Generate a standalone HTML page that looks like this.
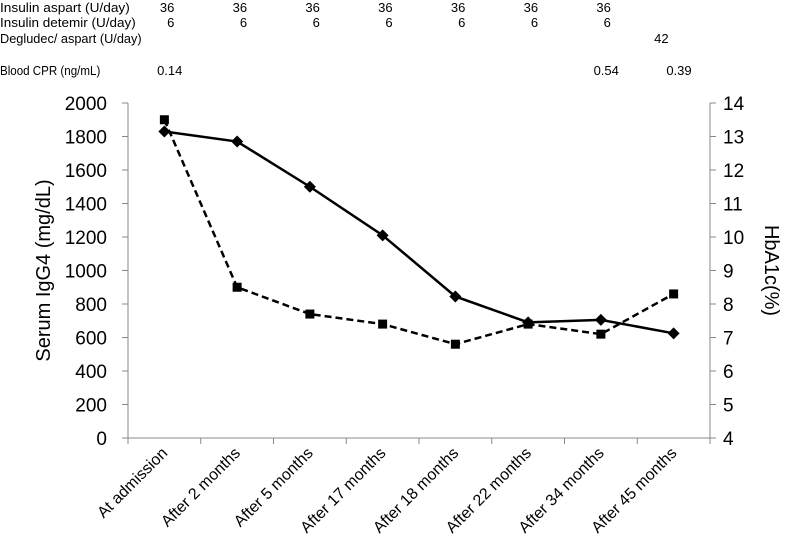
<!DOCTYPE html>
<html><head><meta charset="utf-8"><style>
body{margin:0;background:#fff}
svg{display:block;font-family:"Liberation Sans",sans-serif}
.h{font-size:13px;fill:#000}
</style></head><body>
<svg id="chart" width="787" height="557" viewBox="0 0 787 557" xmlns="http://www.w3.org/2000/svg">
<g id="header"></g>
<g id="axes"></g>
<g id="marks"></g>
</svg>
<script>
const categories=["At admission","After 2 months","After 5 months","After 17 months","After 18 months","After 22 months","After 34 months","After 45 months"];
const iggValues=[1830,1770,1500,1210,845,690,705,625];
const hba1cValues=[13.5,8.5,7.7,7.4,6.8,7.4,7.1,8.3];
const leftTicks=[0,200,400,600,800,1000,1200,1400,1600,1800,2000];
const rightTicks=[4,5,6,7,8,9,10,11,12,13,14];
const aspart=["36","36","36","36","36","36","36",""];
const detemir=["6","6","6","6","6","6","6",""];
const degludec=["","","","","","","","42"];
const cpr=["0.14","","","","","","0.54","0.39"];
const NS="http://www.w3.org/2000/svg";
const X0=128,X1=710,Y0=438,Y1=103;
const bw=(X1-X0)/categories.length;
const xc=i=>X0+bw*(i+0.5);
const yL=v=>Y0-(v/2000)*(Y0-Y1);
const yR=v=>Y0-((v-4)/10)*(Y0-Y1);
function mk(t,a,p){const e=document.createElementNS(NS,t);for(const k in a)e.setAttribute(k,a[k]);p.appendChild(e);return e;}
const ax=document.getElementById('axes'),mg=document.getElementById('marks'),hd=document.getElementById('header');
const rows=[["Insulin aspart (U/day)",aspart,12,10],["Insulin detemir (U/day)",detemir,27,10],["Degludec/ aspart (U/day)",degludec,43,-5],["Blood CPR (ng/mL)",cpr,75,18]];
rows.forEach(r=>{
 const t=mk('text',{x:0,y:r[2],class:'h'},hd);t.textContent=r[0];
 
 t.setAttribute('textLength',String(r[0].length*5.9));t.setAttribute('lengthAdjust','spacingAndGlyphs');
 r[1].forEach((v,i)=>{if(!v)return;const n=mk('text',{x:xc(i)+r[3],y:r[2],class:'h','text-anchor':'end'},hd);n.textContent=v;
 });
});
let l=mk('line',{x1:X0,y1:Y1,x2:X0,y2:Y0,stroke:'#888'},ax);
l=mk('line',{x1:X1,y1:Y1,x2:X1,y2:Y0,stroke:'#888'},ax);
l=mk('line',{x1:X0,y1:Y0,x2:X1,y2:Y0,stroke:'#888'},ax);
leftTicks.forEach(v=>{mk('line',{x1:X0-6,x2:X0,y1:yL(v),y2:yL(v),stroke:'#888'},ax);
 const t=mk('text',{x:X0-21,y:yL(v)+7,'text-anchor':'end','font-size':19},ax);t.textContent=v;
 });
rightTicks.forEach(v=>{mk('line',{x1:X1,x2:X1+6,y1:yR(v),y2:yR(v),stroke:'#888'},ax);
 const t=mk('text',{x:X1+13,y:yR(v)+7,'font-size':19},ax);t.textContent=v;
 });
for(let i=0;i<=categories.length;i++)mk('line',{x1:X0+bw*i,x2:X0+bw*i,y1:Y0,y2:Y0+6,stroke:'#888'},ax);
categories.forEach((c,i)=>{const x=xc(i)+4,y=Y0+16;
 const t=mk('text',{x:x,y:y,'text-anchor':'end','font-size':16,transform:`rotate(-45 ${x} ${y})`},ax);t.textContent=c;
 });
let t=mk('text',{x:0,y:0,'text-anchor':'middle','font-size':20,transform:`translate(50 ${(Y0+Y1)/2}) rotate(-90)`},ax);t.textContent="Serum IgG4 (mg/dL)";

t=mk('text',{x:0,y:0,'text-anchor':'middle','font-size':20,transform:`translate(765 ${(Y0+Y1)/2}) rotate(90)`},ax);t.textContent="HbA1c(%)";

let p=mk('polyline',{points:iggValues.map((v,i)=>xc(i)+','+yL(v)).join(' '),fill:'none',stroke:'#000','stroke-width':2.5},mg);

p=mk('polyline',{points:hba1cValues.map((v,i)=>xc(i)+','+yR(v)).join(' '),fill:'none',stroke:'#000','stroke-width':2.5,'stroke-dasharray':'7,4'},mg);

iggValues.forEach((v,i)=>{const x=xc(i),y=yL(v);
 const m=mk('polygon',{points:`${x},${y-6} ${x+6},${y} ${x},${y+6} ${x-6},${y}`,fill:'#000'},mg);
 });
hba1cValues.forEach((v,i)=>{const x=xc(i),y=yR(v);
 const m=mk('rect',{x:x-4.5,y:y-4.5,width:9,height:9,fill:'#000'},mg);
 });
</script>
</body></html>
